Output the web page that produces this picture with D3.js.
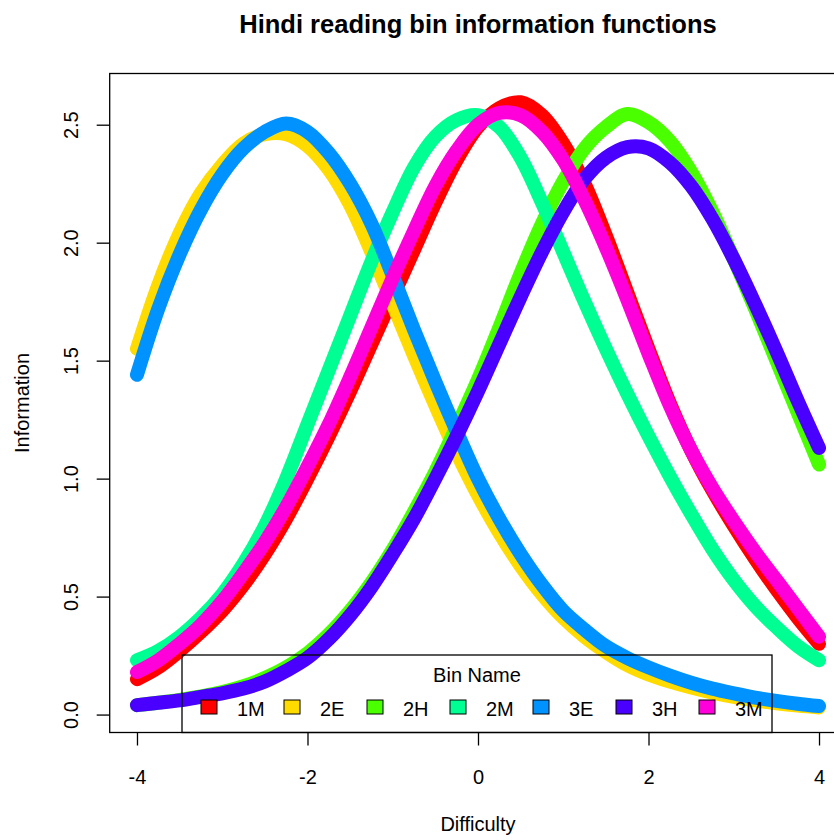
<!DOCTYPE html>
<html>
<head>
<meta charset="utf-8">
<script src="https://cdn.jsdelivr.net/npm/d3@7"></script>
<style>
  html, body { margin: 0; padding: 0; background: #fff; }
  svg text { font-family: "Liberation Sans", Arial, sans-serif; fill: #000; }
</style>
</head>
<body>
<svg id="chart" width="834" height="840"></svg>
<script>
const WIDTH = 834;
const HEIGHT = 840;
const PLOT = { left: 109.7, right: 846.3, top: 73.5, bottom: 732.5 };
const BAND_WIDTH = 14;
const FONT = '"Liberation Sans", Arial, sans-serif';

// Difficulty grid the information values were read at
const difficulty = [
  -4, -3.75, -3.5, -3.25, -3, -2.75, -2.5, -2.25, -2, -1.75, -1.5, -1.25, -1, -0.75, -0.5, -0.25,
  0, 0.25, 0.5, 0.75, 1, 1.25, 1.5, 1.75, 2, 2.25, 2.5, 2.75, 3, 3.25, 3.5, 3.75, 4
];

const binNames = ['1M', '2E', '2H', '2M', '3E', '3H', '3M'];
const binColors = ['#FF0000', '#FFDB00', '#49FF00', '#00FF92', '#0092FF', '#4900FF', '#FF00DB'];

const info1M = [0.15, 0.20, 0.27, 0.35, 0.44, 0.55, 0.68, 0.83, 1.00, 1.18, 1.37, 1.57, 1.77, 1.97, 2.17, 2.35,
  2.49, 2.57, 2.595, 2.54, 2.42, 2.25, 2.03, 1.79, 1.55, 1.32, 1.12, 0.95, 0.80, 0.66, 0.53, 0.41, 0.30];
const info2E = [1.55, 1.82, 2.04, 2.21, 2.33, 2.42, 2.46, 2.46, 2.41, 2.31, 2.16, 1.96, 1.74, 1.52, 1.31, 1.11,
  0.93, 0.77, 0.63, 0.51, 0.41, 0.33, 0.265, 0.21, 0.17, 0.14, 0.115, 0.093, 0.075, 0.06, 0.048, 0.038, 0.03];
const info2H = [0.04, 0.05, 0.062, 0.077, 0.095, 0.12, 0.155, 0.20, 0.26, 0.34, 0.44, 0.56, 0.70, 0.86, 1.03, 1.22,
  1.42, 1.64, 1.87, 2.08, 2.26, 2.40, 2.49, 2.545, 2.51, 2.43, 2.30, 2.13, 1.93, 1.72, 1.50, 1.28, 1.06];
const info2M = [0.23, 0.27, 0.33, 0.41, 0.51, 0.64, 0.80, 1.00, 1.23, 1.46, 1.69, 1.92, 2.13, 2.32, 2.45, 2.52,
  2.54, 2.49, 2.36, 2.17, 1.96, 1.75, 1.55, 1.36, 1.18, 1.01, 0.85, 0.70, 0.57, 0.46, 0.37, 0.29, 0.23];
const info3E = [1.44, 1.72, 1.95, 2.14, 2.29, 2.40, 2.47, 2.505, 2.47, 2.38, 2.25, 2.08, 1.86, 1.63, 1.41, 1.20,
  1.00, 0.83, 0.68, 0.55, 0.44, 0.36, 0.29, 0.24, 0.20, 0.165, 0.135, 0.11, 0.09, 0.072, 0.058, 0.046, 0.036];
const info3H = [0.04, 0.05, 0.06, 0.075, 0.09, 0.11, 0.14, 0.185, 0.24, 0.32, 0.42, 0.54, 0.68, 0.83, 1.00, 1.18,
  1.37, 1.57, 1.77, 1.96, 2.13, 2.27, 2.36, 2.405, 2.40, 2.34, 2.24, 2.10, 1.93, 1.74, 1.54, 1.33, 1.13];
const info3M = [0.18, 0.23, 0.30, 0.38, 0.48, 0.60, 0.73, 0.88, 1.05, 1.23, 1.43, 1.64, 1.85, 2.05, 2.24, 2.39,
  2.50, 2.55, 2.54, 2.47, 2.35, 2.18, 1.98, 1.76, 1.53, 1.31, 1.12, 0.96, 0.82, 0.69, 0.57, 0.45, 0.33];

const xTicks = [-4, -2, 0, 2, 4];
const yTicks = [0, 0.5, 1, 1.5, 2, 2.5];

const seriesValues = [info1M, info2E, info2H, info2M, info3E, info3H, info3M];
const series = binNames.map((name, i) => ({
  name,
  color: binColors[i],
  points: difficulty.map((d, j) => ({ x: d, y: seriesValues[i][j] }))
}));

const svg = d3.select('#chart');

// R-style axis extents (4% padding)
const x = d3.scaleLinear().domain([-4.32, 4.32]).range([PLOT.left, PLOT.right]);
const y = d3.scaleLinear().domain([-0.076, 2.717]).range([PLOT.bottom, PLOT.top]);

svg.append('defs').append('clipPath').attr('id', 'plot-clip')
  .append('rect')
  .attr('x', PLOT.left).attr('y', PLOT.top)
  .attr('width', PLOT.right - PLOT.left).attr('height', PLOT.bottom - PLOT.top);

const line = d3.line()
  .x((d) => x(d.x))
  .y((d) => y(d.y))
  .curve(d3.curveCatmullRom.alpha(0.5));

const curvesGroup = svg.append('g').attr('clip-path', 'url(#plot-clip)');
curvesGroup.selectAll('path')
  .data(series)
  .join('path')
  .attr('d', (d) => line(d.points))
  .attr('fill', 'none')
  .attr('stroke', (d) => d.color)
  .attr('stroke-width', BAND_WIDTH)
  .attr('stroke-linecap', 'round')
  .attr('stroke-linejoin', 'round');

// plot frame
svg.append('rect')
  .attr('x', PLOT.left).attr('y', PLOT.top)
  .attr('width', PLOT.right - PLOT.left).attr('height', PLOT.bottom - PLOT.top)
  .attr('fill', 'none').attr('stroke', '#000').attr('stroke-width', 1.3);

// x axis
const xAxis = d3.axisBottom(x).tickValues(xTicks).tickSize(13).tickPadding(24).tickFormat(d3.format('d'));
const gx = svg.append('g').attr('transform', `translate(0,${PLOT.bottom})`).call(xAxis);
gx.select('.domain').remove();
gx.selectAll('line').attr('stroke', '#000').attr('stroke-width', 1.3);
gx.selectAll('text')
  .attr('font-size', 20)
  .attr('font-family', FONT)
  .text((d) => (d < 0 ? '-' + Math.abs(d) : d));

// y axis (labels parallel to axis, as R draws them)
const yAxis = d3.axisLeft(y).tickValues(yTicks).tickSize(13).tickFormat(d3.format('.1f'));
const gy = svg.append('g').attr('transform', `translate(${PLOT.left},0)`).call(yAxis);
gy.select('.domain').remove();
gy.selectAll('line').attr('stroke', '#000').attr('stroke-width', 1.3);
gy.selectAll('text')
  .attr('font-size', 20)
  .attr('font-family', FONT)
  .attr('x', null).attr('y', null).attr('dy', null)
  .attr('text-anchor', 'middle')
  .attr('transform', 'translate(-32,0) rotate(-90)');

// titles
svg.append('text')
  .attr('x', (PLOT.left + PLOT.right) / 2).attr('y', 33)
  .attr('text-anchor', 'middle')
  .attr('font-size', 25.5)
  .attr('font-weight', 'bold')
  .text('Hindi reading bin information functions');

svg.append('text')
  .attr('x', (PLOT.left + PLOT.right) / 2).attr('y', 831)
  .attr('text-anchor', 'middle')
  .attr('font-size', 20)
  .text('Difficulty');

svg.append('text')
  .attr('transform', `translate(29,${(PLOT.top + PLOT.bottom) / 2}) rotate(-90)`)
  .attr('text-anchor', 'middle')
  .attr('font-size', 20)
  .text('Information');

// legend (transparent, horizontal, bottom)
const legend = { left: 182, right: 772, top: 655, bottom: PLOT.bottom };
const legendGroup = svg.append('g');
legendGroup.append('rect')
  .attr('x', legend.left).attr('y', legend.top)
  .attr('width', legend.right - legend.left).attr('height', legend.bottom - legend.top)
  .attr('fill', 'none').attr('stroke', '#000').attr('stroke-width', 1.3);

legendGroup.append('text')
  .attr('x', (legend.left + legend.right) / 2).attr('y', 682)
  .attr('text-anchor', 'middle')
  .attr('font-size', 20)
  .text('Bin Name');

const legendStep = 83;
const legendX = d3.scalePoint().domain(binNames).range([201, 201 + legendStep * (binNames.length - 1)]);
const items = legendGroup.selectAll('g.item')
  .data(series)
  .join('g')
  .attr('class', 'item')
  .attr('transform', (d) => `translate(${legendX(d.name)},0)`);

items.append('rect')
  .attr('x', 0).attr('y', 700)
  .attr('width', 16).attr('height', 14)
  .attr('fill', (d) => d.color)
  .attr('stroke', '#000').attr('stroke-width', 1);

items.append('text')
  .attr('x', 36).attr('y', 716)
  .attr('font-size', 20)
  .text((d) => d.name);
</script>
</body>
</html>
